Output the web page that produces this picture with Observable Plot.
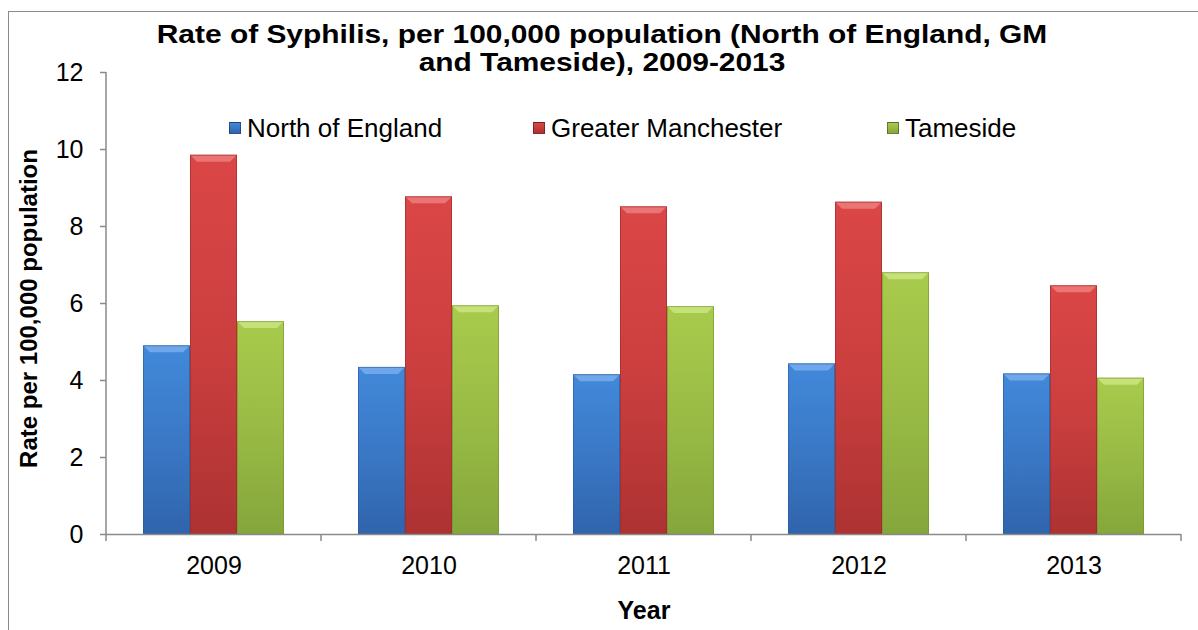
<!DOCTYPE html>
<html>
<head>
<meta charset="utf-8">
<script src="https://cdn.jsdelivr.net/npm/d3@7"></script>
<script src="https://cdn.jsdelivr.net/npm/@observablehq/plot@0.6"></script>
<style>
  html, body { margin: 0; padding: 0; background: #fff; }
  #wrap { position: relative; width: 1198px; height: 630px; overflow: hidden; font-family: "Liberation Sans", Arial, sans-serif; }
  #frame { position: absolute; left: 8px; top: 11px; width: 1400px; height: 800px; border-left: 1.5px solid #8a8a8a; border-top: 1.5px solid #8a8a8a; }
  #title { position: absolute; left: 152px; top: 20px; width: 900px; text-align: center; font-weight: bold; font-size: 26px; line-height: 28px; color: #000; transform: scaleX(1.15); transform-origin: 50% 50%; }
  .leg { position: absolute; top: 113px; font-size: 26px; line-height: 30px; color: #000; white-space: nowrap; display: flex; align-items: center; }
  .leg .sw { width: 12px; height: 12px; margin-right: 6px; border: 0.5px solid rgba(0,0,0,0.35); box-sizing: border-box; }
  #chart { position: absolute; left: 0; top: 0; }
  g[aria-label="y-axis label"], g[aria-label="fx-axis label"] { font-weight: bold; }
  g[aria-label="y-axis label"] { font-size: 24px; }
</style>
</head>
<body>
<div id="wrap">
  <div id="frame"></div>
  <div id="chart"></div>
  <div id="title">Rate of Syphilis, per 100,000 population (North of England, GM<br>and Tameside), 2009-2013</div>
  <div id="legend"></div>
</div>
<script>
// ---- data ----
const years = ["2009", "2010", "2011", "2012", "2013"];
const seriesNames = ["North of England", "Greater Manchester", "Tameside"];
const northOfEngland = [4.90, 4.34, 4.15, 4.43, 4.17];
const greaterManchester = [9.85, 8.77, 8.51, 8.63, 6.46];
const tameside = [5.53, 5.94, 5.92, 6.80, 4.06];
const yTicks = [0, 2, 4, 6, 8, 10, 12];

// ---- styles ----
const gradIds = ["gNoE", "gGM", "gTam"];
const gradStops = [
  ["#4289da", "#3a78c6", "#3064ac"],
  ["#db4646", "#cc3f3f", "#ad3232"],
  ["#a8cb4c", "#99bb45", "#85a63b"]
];
const bevelColors = ["#7fb2ef", "#f08484", "#cfe88a"];
const edgeColors = ["#2c5a9a", "#9a2a2a", "#76932f"];

const seriesValues = [northOfEngland, greaterManchester, tameside];
const rows = [];
years.forEach((yr, i) => {
  seriesNames.forEach((s, j) => rows.push({year: yr, series: s, value: seriesValues[j][i]}));
});

const plot = Plot.plot({
  width: 1198,
  height: 630,
  marginLeft: 106,
  marginRight: 17,
  marginTop: 72,
  marginBottom: 96,
  style: {fontFamily: "'Liberation Sans', Arial, sans-serif", fontSize: "25px", color: "#000", background: "transparent", overflow: "visible"},
  fx: {domain: years, paddingInner: 0, paddingOuter: 0, axis: "bottom", tickSize: 0, tickPadding: 22, label: "Year", labelAnchor: "center", labelOffset: 84, labelArrow: false},
  x: {domain: seriesNames, paddingInner: 0, paddingOuter: 0.74, axis: null},
  y: {domain: [0, 12], ticks: yTicks, tickSize: 6, tickPadding: 17, label: "Rate per 100,000 population", labelAnchor: "center", labelOffset: 87, labelArrow: false, tickFormat: d => String(d)},
  color: {domain: seriesNames, range: gradIds.map(id => `url(#${id})`)},
  marks: [
    Plot.barY(rows, {fx: "year", x: "series", y: "value", fill: "series"}),
    Plot.ruleY([0], {stroke: "#8a8a8a", strokeWidth: 1.5})
  ]
});

document.getElementById("chart").appendChild(plot);

const svg = d3.select(plot);
// gradients
const defs = svg.insert("defs", ":first-child");
gradIds.forEach((id, i) => {
  const g = defs.append("linearGradient").attr("id", id).attr("x1", 0).attr("y1", 0).attr("x2", 0).attr("y2", 1);
  g.append("stop").attr("offset", "0%").attr("stop-color", gradStops[i][0]);
  g.append("stop").attr("offset", "50%").attr("stop-color", gradStops[i][1]);
  g.append("stop").attr("offset", "100%").attr("stop-color", gradStops[i][2]);
});

// bevel highlight on bar tops
svg.selectAll("rect").each(function() {
  const r = d3.select(this);
  const fill = r.attr("fill") || "";
  const idx = gradIds.findIndex(id => fill.includes(id));
  if (idx < 0) return;
  const x = +r.attr("x"), y = +r.attr("y"), w = +r.attr("width"), h = +r.attr("height");
  const b = 7;
  const p = d3.select(this.parentNode);
  p.append("polygon")
    .attr("points", `${x},${y} ${x + w},${y} ${x + w - b},${y + b} ${x + b},${y + b}`)
    .attr("fill", bevelColors[idx]).attr("opacity", 0.75);
  p.append("rect").attr("x", x + 0.5).attr("y", y + 0.5).attr("width", w - 1).attr("height", h - 0.5)
    .attr("fill", "none").attr("stroke", edgeColors[idx]).attr("stroke-width", 1).attr("opacity", 0.6);
});

// nudge the y-axis title slightly down, keeping Plot's own transform
svg.selectAll('g[aria-label="y-axis label"]').each(function() {
  const g = d3.select(this);
  g.attr("transform", ((g.attr("transform") || "") + " translate(0,5)").trim());
});

// axis decorations through the plot's scales
const fx = plot.scale("fx"), ys = plot.scale("y");
const y0 = ys.apply(0), yTop = ys.apply(12);
const x0 = fx.apply(years[0]);
const deco = svg.append("g").attr("stroke", "#8a8a8a").attr("stroke-width", 1.5);
deco.append("line").attr("x1", x0).attr("x2", x0).attr("y1", yTop).attr("y2", y0);
const bounds = years.map(yr => fx.apply(yr)).concat([fx.apply(years[years.length - 1]) + fx.bandwidth]);
bounds.forEach(bx => deco.append("line").attr("x1", bx).attr("x2", bx).attr("y1", y0).attr("y2", y0 + 7));
svg.selectAll('g[aria-label="y-axis tick"] path, g[aria-label="y-axis"] line').attr("stroke", "#8a8a8a").attr("stroke-width", 1.5);

// legend
const legLeft = [229, 533, 887];
const legend = document.getElementById("legend");
seriesNames.forEach((s, i) => {
  const item = document.createElement("div");
  item.className = "leg";
  item.style.left = legLeft[i] + "px";
  const sw = document.createElement("span");
  sw.className = "sw";
  sw.style.background = `linear-gradient(${gradStops[i][0]}, ${gradStops[i][2]})`;
  item.appendChild(sw);
  item.appendChild(document.createTextNode(s));
  legend.appendChild(item);
});
</script>
</body>
</html>
